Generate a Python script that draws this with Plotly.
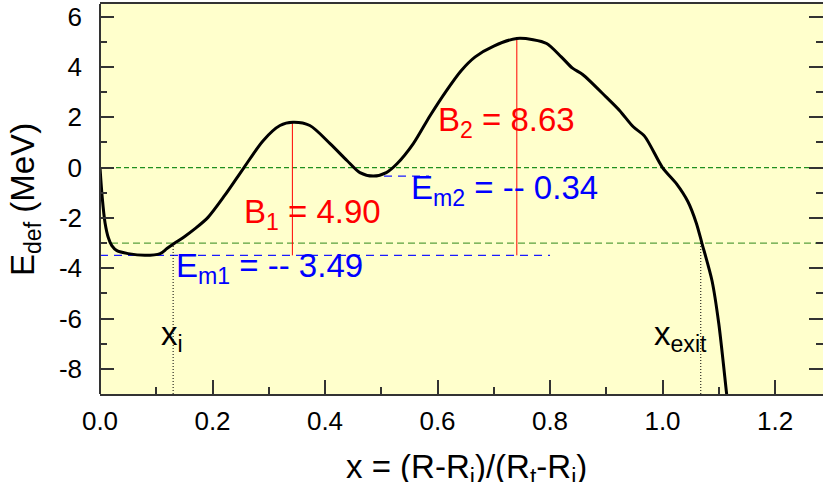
import plotly.graph_objects as go

# ---- data ----
curve_x = [0.0, 0.004, 0.009, 0.015, 0.021, 0.03, 0.05, 0.08, 0.107, 0.119, 0.133,
           0.15, 0.169, 0.192, 0.222, 0.256, 0.29, 0.32, 0.343, 0.373, 0.409, 0.439,
           0.462, 0.486, 0.509, 0.528, 0.557, 0.587, 0.616, 0.642, 0.667, 0.70, 0.741,
           0.77, 0.794, 0.82, 0.84, 0.858, 0.90, 0.924, 0.948, 0.968, 1.0, 1.025,
           1.045, 1.06, 1.07, 1.088, 1.10, 1.114, 1.12]
curve_y = [0.0, -1.2, -2.2, -2.8, -3.1, -3.3, -3.42, -3.49, -3.42, -3.22, -3.0,
           -2.75, -2.43, -1.98, -1.1, 0.0, 1.07, 1.67, 1.80, 1.67, 0.95, 0.28,
           -0.2, -0.34, -0.2, 0.15, 0.95, 2.07, 3.06, 3.85, 4.4, 4.83, 5.13,
           5.08, 4.93, 4.4, 3.95, 3.7, 2.8, 2.26, 1.62, 1.25, 0.0, -0.65,
           -1.35, -2.2, -3.0, -4.5, -6.2, -9.0, -10.2]

E_m1 = -3.49
E_m2 = -0.34
E_ground = -3.0
B1_x, B1_top = 0.342, 1.80
B2_x, B2_top = 0.741, 5.13
x_i = 0.13
x_exit = 1.068
Em1_line_end = 0.80
Em2_line = [0.48, 0.585]

x_ticks = [0.0, 0.2, 0.4, 0.6, 0.8, 1.0, 1.2]
y_ticks = [-8, -6, -4, -2, 0, 2, 4, 6]
y_tick_text = ["-8", "-6", "-4", "-2", "0", "2", "4", "6"]

labels = {
    "B1": "B<sub>1</sub> = 4.90",
    "B2": "B<sub>2</sub> = 8.63",
    "Em1": "E<sub>m1</sub> = -- 3.49",
    "Em2": "E<sub>m2</sub> = -- 0.34",
    "xi": "x<sub>i</sub>",
    "xexit": "x<sub>exit</sub>",
}

XMAX = 1.2853
YMIN, YMAX = -9.0, 6.5
FONT = "Liberation Sans, Arial, sans-serif"
AX = "#333333"
PW, PH = 723.0, 390.0  # plot area size in px
PL, PB = 100.0, 394.0  # left / bottom edge in px

fig = go.Figure()

def seg(xs, ys, color, width, dash):
    fig.add_trace(go.Scatter(x=xs, y=ys, mode="lines",
                             line=dict(color=color, width=width, dash=dash),
                             hoverinfo="skip", showlegend=False))

# reference lines
seg([0, XMAX], [0, 0], "#1f8f1f", 1.2, "5px,3px")
seg([0, XMAX], [E_ground, E_ground], "#5aa03c", 1.2, "7px,4px")
seg([0, Em1_line_end], [E_m1, E_m1], "#1a1aff", 1.3, "8px,6px")
seg(Em2_line, [E_m2, E_m2], "#1a1aff", 1.3, "8px,6px")
seg([B1_x, B1_x], [E_m1, B1_top], "#ff0000", 1, "solid")
seg([B2_x, B2_x], [E_m1, B2_top], "#ff0000", 1, "solid")
seg([x_i, x_i], [YMIN, E_ground], "#000000", 1, "1px,2px")
seg([x_exit, x_exit], [YMIN, E_ground], "#000000", 1, "1px,2px")

# the curve
fig.add_trace(go.Scatter(x=curve_x, y=curve_y, mode="lines",
                         line=dict(color="black", width=3, shape="spline", smoothing=0.8),
                         hoverinfo="skip", showlegend=False))

def ann(text, x, y, color):
    fig.add_annotation(x=x, y=y, xref="x", yref="y", text=text, showarrow=False,
                       xanchor="left", yanchor="middle",
                       font=dict(family=FONT, size=33, color=color))

ann(labels["B1"], 0.252, -1.85, "#ff0000")
ann(labels["B2"], 0.598, 1.8, "#ff0000")
ann(labels["Em2"], 0.549, -0.9, "#0000ff")
ann(labels["Em1"], 0.131, -3.98, "#0000ff")
ann(labels["xi"], 0.104, -6.7, "#000000")
ann(labels["xexit"], 0.982, -6.7, "#000000")

# axis titles (positions in page pixels converted to paper coords)
def px(xp):
    return (xp - PL) / PW

def py(yp):
    return (PB - yp) / PH

fig.add_annotation(x=px(25), y=py(200), xref="paper", yref="paper",
                   text="E<sub>def</sub> (MeV)", showarrow=False, textangle=-90,
                   xanchor="center", yanchor="middle",
                   font=dict(family=FONT, size=33, color="black"))
fig.add_annotation(x=px(466), y=py(469), xref="paper", yref="paper",
                   text="x = (R-R<sub>i</sub>)/(R<sub>t</sub>-R<sub>i</sub>)",
                   showarrow=False, xanchor="center", yanchor="middle",
                   font=dict(family=FONT, size=33, color="black"))

fig.update_layout(
    width=823, height=482,
    margin=dict(l=100, r=0, t=4, b=88, autoexpand=False),
    paper_bgcolor="white", plot_bgcolor="#ffffcc",
    font=dict(family=FONT, size=26, color="black"),
    showlegend=False,
)
fig.update_xaxes(range=[0, XMAX], tickvals=x_ticks, ticktext=[f"{v:.1f}" for v in x_ticks],
                 automargin=False,
                 showgrid=False, zeroline=False, showline=True, linecolor=AX, linewidth=2,
                 mirror=True, ticks="inside", ticklen=14, tickwidth=1.5, tickcolor=AX,
                 ticklabelstandoff=3,
                 minor=dict(ticks="inside", ticklen=7, tickwidth=1.5, tickcolor=AX, dtick=0.1,
                            tick0=0, showgrid=False),
                 tickfont=dict(size=26))
fig.update_yaxes(range=[YMIN, YMAX], tickvals=y_ticks, ticktext=y_tick_text,
                 automargin=False, showgrid=False, zeroline=False,
                 showline=False, mirror="ticks", ticks="inside", ticklen=14, tickwidth=1.5,
                 tickcolor=AX, ticklabelstandoff=17,
                 minor=dict(ticks="inside", ticklen=7, tickwidth=1.5, tickcolor=AX, dtick=1,
                            tick0=0, showgrid=False),
                 tickfont=dict(size=26))
# left frame line
fig.add_shape(type="line", xref="paper", yref="paper", x0=0, x1=0, y0=0, y1=1,
              line=dict(color=AX, width=2), layer="above")

fig.write_html("out.html", config={"displayModeBar": False},
               post_script="document.body.style.margin='0';"
                           "document.body.style.padding='0';"
                           "document.body.style.overflow='hidden';")
